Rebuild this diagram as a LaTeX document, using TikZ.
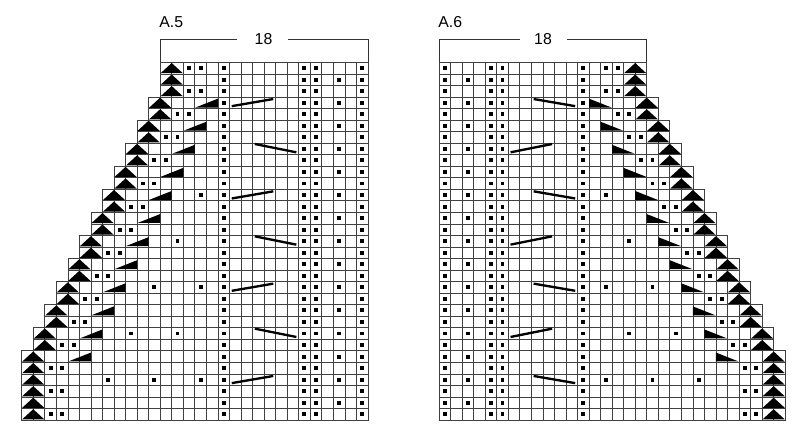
\documentclass[tikz,border=0pt]{standalone}
\usepackage{fontspec}
\setmainfont{Liberation Sans}
\usetikzlibrary{positioning}

\newcommand\kdot[2]{\fill (#1-0.67,#2-0.67) rectangle (#1-0.33,#2-0.33);}
\newcommand\knitchart{%
  \foreach \r in {1,...,31}{
    \pgfmathtruncatemacro\rw{\r<4 ? 18 : (\r<26 ? 18+floor((\r-2)/2) : 30)}
    \pgfmathtruncatemacro\rs{31-\rw}
    \foreach \j in {\rs,...,30}{\draw[cell] (\j-1,\r-1) rectangle (\j,\r);}
    \fill (\rs-1+0.04,\r-0.06) -- (\rs+1-0.04,\r-0.06) -- (\rs,\r-1+0.06) -- cycle;
    \foreach \j in {18,25,26,30}{\kdot{\j}{\r}}
    \ifodd\r
      \kdot{\rs+2}{\r}\kdot{\rs+3}{\r}
    \else
      \kdot{28}{\r}
      \ifnum\r>3 \ifnum\r<27
        \fill (\rs+3.05,\r-0.08) -- (\rs+5,\r-0.08) -- (\rs+5,\r-0.85) -- cycle;
      \fi\fi
    \fi
  }
  % extra dots
  \foreach \r/\j in {12/16, 16/14, 20/12, 20/16, 24/10, 24/14, 28/8, 28/12, 28/16}{\kdot{\j}{\r}}
  % cables
  \foreach \r in {4,12,20,28}{\draw[cable] (18.2,\r-0.2) -- (21.8,\r-0.82);}
  \foreach \r in {8,16,24}{\draw[cable] (20.2,\r-0.92) -- (23.8,\r-0.2);}
}

\begin{document}
\begin{tikzpicture}[x=0.3mm, y=-0.3mm,
  cell/.style = {draw=black!75, line width=0.55pt},
  cable/.style = {line width=0.7mm},
  lbl/.style = {font=\fontsize{13.5}{15}\selectfont, inner sep=1pt},
  bracket/.style = {draw=black!80, line width=0.6pt},
  ]
  \useasboundingbox (0,0) rectangle (800,427);
  % A.5
  \begin{scope}[shift={(21.7,62.3)}, x=3.462mm, y=-3.462mm]
    \knitchart
  \end{scope}
  % A.6 (mirrored)
  \begin{scope}[shift={(806.9,0)}, xscale=-1]
    \begin{scope}[shift={(21.7,62.3)}, x=3.462mm, y=-3.462mm]
      \knitchart
    \end{scope}
  \end{scope}

  \node[lbl, anchor=west] (labA5) at (158,22) {A.5};
  \node[lbl] (numA5) at (263.5,39) {18};
  \coordinate (a5l) at (160.3,62.3);
  \coordinate (a5r) at (368,62.3);
  \draw[bracket] (a5l) -- (160.3,39) -- (237,39);
  \draw[bracket] (a5r) -- (368,39) -- (288,39);

  \node[lbl, anchor=west] (labA6) at (437,22) {A.6};
  \node[lbl] (numA6) at (543,39) {18};
  \coordinate (a6l) at (439,62.3);
  \coordinate (a6r) at (646.7,62.3);
  \draw[bracket] (a6l) -- (439,39) -- (520,39);
  \draw[bracket] (a6r) -- (646.7,39) -- (567,39);
\end{tikzpicture}
\end{document}
